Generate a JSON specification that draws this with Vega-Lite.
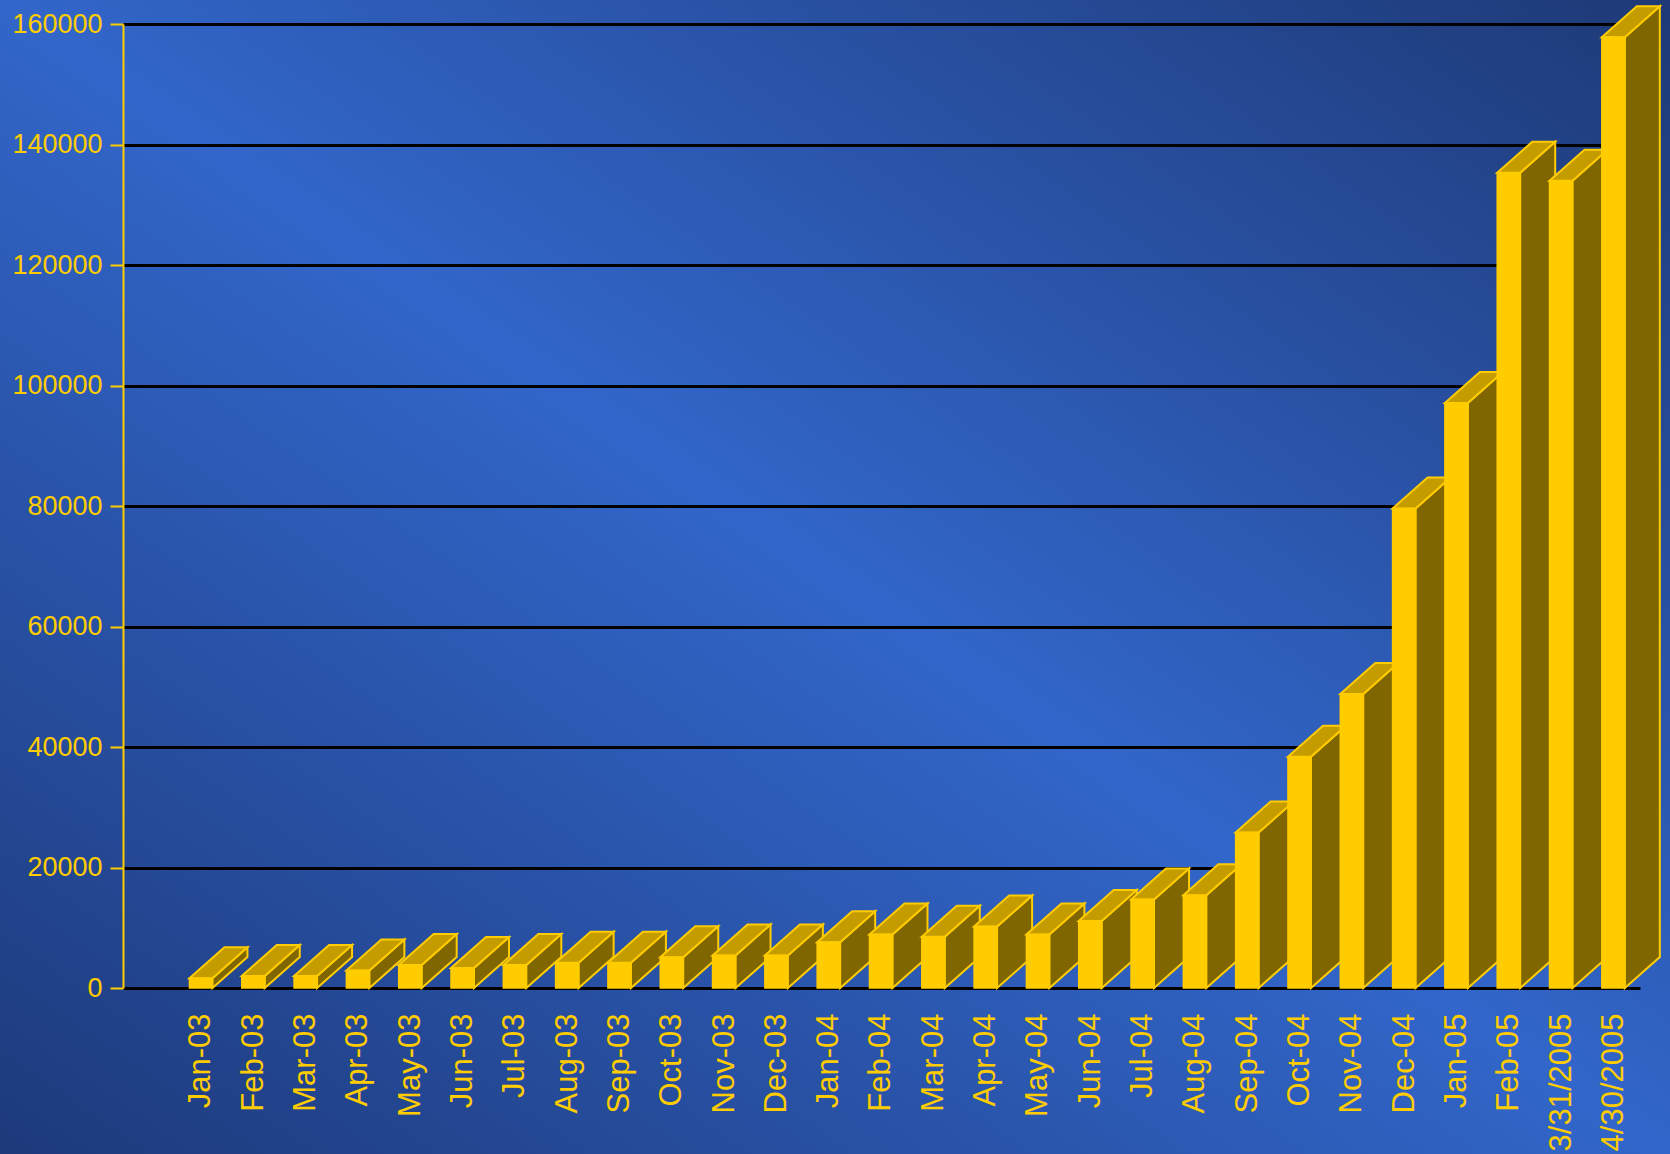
{
  "$schema": "https://vega.github.io/schema/vega-lite/v6.json",
  "width": 1670,
  "height": 1154,
  "autosize": {"type": "none"},
  "padding": 0,
  "background": "#2a55b0",
  "view": {
    "stroke": null,
    "fill": {
      "gradient": "linear",
      "x1": 0, "y1": 1, "x2": 1, "y2": 0,
      "stops": [
        {"offset": 0, "color": "#1d397a"},
        {"offset": 0.5, "color": "#3266ca"},
        {"offset": 1, "color": "#1e3976"}
      ]
    }
  },
  "data": {
    "values": [
      {"month": "Jan-03", "value": 1600},
      {"month": "Feb-03", "value": 2000},
      {"month": "Mar-03", "value": 2000},
      {"month": "Apr-03", "value": 2900},
      {"month": "May-03", "value": 3800},
      {"month": "Jun-03", "value": 3300},
      {"month": "Jul-03", "value": 3800},
      {"month": "Aug-03", "value": 4200},
      {"month": "Sep-03", "value": 4200},
      {"month": "Oct-03", "value": 5100},
      {"month": "Nov-03", "value": 5400},
      {"month": "Dec-03", "value": 5400},
      {"month": "Jan-04", "value": 7600},
      {"month": "Feb-04", "value": 8900},
      {"month": "Mar-04", "value": 8500},
      {"month": "Apr-04", "value": 10200},
      {"month": "May-04", "value": 8900},
      {"month": "Jun-04", "value": 11100},
      {"month": "Jul-04", "value": 14700},
      {"month": "Aug-04", "value": 15400},
      {"month": "Sep-04", "value": 25800},
      {"month": "Oct-04", "value": 38400},
      {"month": "Nov-04", "value": 48800},
      {"month": "Dec-04", "value": 79600},
      {"month": "Jan-05", "value": 97100},
      {"month": "Feb-05", "value": 135300},
      {"month": "3/31/2005", "value": 134000},
      {"month": "4/30/2005", "value": 157800}
    ]
  },
  "encoding": {
    "x": {
      "field": "month",
      "type": "ordinal",
      "sort": null,
      "scale": {"type": "point", "range": [123, 1640], "padding": 1.014, "align": 0.745},
      "axis": {
        "orient": "bottom",
        "offset": -166,
        "title": null,
        "labelAngle": -90,
        "labelAlign": "right",
        "labelBaseline": "middle",
        "labelPadding": 25,
        "ticks": false,
        "tickSize": 0,
        "domain": false,
        "grid": false,
        "labelOverlap": false,
        "labelColor": "#FFCC00",
        "labelFont": "Liberation Sans",
        "labelFontSize": 31
      }
    },
    "y": {
      "field": "value",
      "type": "quantitative",
      "stack": null,
      "scale": {"domain": [0, 160000], "range": [988, 24], "nice": false, "zero": true},
      "axis": {
        "orient": "left",
        "offset": -123,
        "title": null,
        "values": [0, 20000, 40000, 60000, 80000, 100000, 120000, 140000, 160000],
        "format": "d",
        "grid": true,
        "gridColor": "#000000",
        "gridWidth": 3,
        "gridOpacity": 1,
        "domainColor": "#FFCC00",
        "domainWidth": 2,
        "tickColor": "#FFCC00",
        "tickWidth": 2,
        "tickSize": 13,
        "labelPadding": 8,
        "labelColor": "#FFCC00",
        "labelFont": "Liberation Sans",
        "labelFontSize": 27
      }
    }
  },
  "layer": [
    {
      "transform": [{"fold": ["month", "value"], "as": ["corner", "cval"]}],
      "mark": {
        "type": "area",
        "orient": "vertical",
        "fill": "#806600",
        "stroke": "#FFCC00",
        "strokeWidth": 2,
        "strokeJoin": "miter",
        "xOffset": {"expr": "11.5 + (datum.corner == 'value' ? 35 : 0)"},
        "yOffset": {"expr": "datum.corner == 'value' ? -31 : 0"},
        "y2Offset": {"expr": "datum.corner == 'value' ? -31 : 0"}
      },
      "encoding": {
        "y2": {"datum": 0},
        "detail": {"field": "month"}
      }
    },
    {
      "transform": [{"fold": ["month", "value"], "as": ["corner", "cval"]}],
      "mark": {
        "type": "area",
        "orient": "horizontal",
        "fill": "#C49C00",
        "stroke": "#FFCC00",
        "strokeWidth": 2,
        "strokeJoin": "miter",
        "xOffset": {"expr": "-11.5 + (datum.corner == 'value' ? 35 : 0)"},
        "x2Offset": {"expr": "11.5 + (datum.corner == 'value' ? 35 : 0)"},
        "yOffset": {"expr": "datum.corner == 'value' ? -31 : 0"}
      },
      "encoding": {
        "x2": {"field": "month"},
        "detail": {"field": "month"}
      }
    },
    {
      "mark": {"type": "bar", "width": 23, "fill": "#FFCC00", "stroke": "#FFCC00", "strokeWidth": 1.5},
      "encoding": {
        "y2": {"datum": 0}
      }
    }
  ]
}
